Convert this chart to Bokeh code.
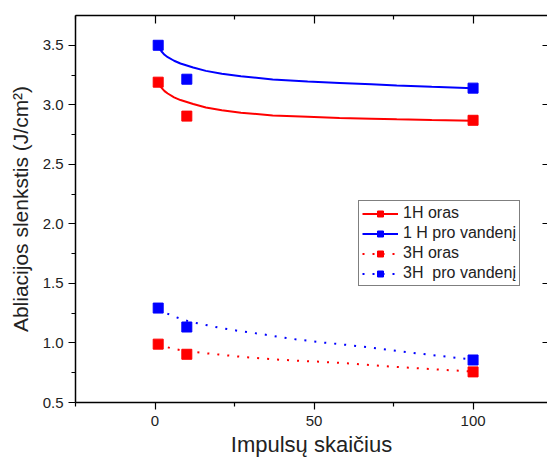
from bokeh.plotting import figure
from bokeh.models import LinearAxis, FixedTicker, Range1d, Legend, LegendItem
from bokeh.embed import file_html
from bokeh.resources import INLINE

# ---- data ----
pulses = [1, 10, 100]
h1_air = [3.19, 2.905, 2.87]
h1_water = [3.50, 3.215, 3.14]
h3_air = [0.99, 0.905, 0.757]
h3_water = [1.293, 1.134, 0.857]

# fitted curves
fit1_x = [1, 1.5, 2, 3, 4, 6, 8, 12, 16, 21, 27, 37, 48, 58, 68, 76, 87, 100]
fit1_air = [3.184, 3.16, 3.145, 3.115, 3.095, 3.063, 3.04, 3.007, 2.978, 2.955,
            2.933, 2.911, 2.90, 2.889, 2.883, 2.878, 2.872, 2.866]
fit1_water = [3.50, 3.47, 3.45, 3.42, 3.40, 3.37, 3.347, 3.313, 3.285, 3.26,
              3.24, 3.213, 3.196, 3.184, 3.172, 3.162, 3.151, 3.14]

fit3_x = [1, 5, 8, 11, 14, 20, 27, 33, 39, 45, 52, 58, 65, 74, 84, 96, 100]
fit3_air = [0.985, 0.956, 0.94, 0.928, 0.919, 0.903, 0.884, 0.872, 0.86, 0.851,
            0.842, 0.833, 0.82, 0.802, 0.785, 0.766, 0.76]
fit3_water = [1.28, 1.233, 1.203, 1.178, 1.162, 1.129, 1.098, 1.077, 1.05, 1.028,
              1.006, 0.99, 0.97, 0.94, 0.908, 0.872, 0.86]

labels = ["1H oras", "1 H pro vandenį", "3H oras", "3H  pro vandenį"]
x_major = [0, 50, 100]
x_minor = [-25, 25, 75, 125]
y_major = [0.5, 1.0, 1.5, 2.0, 2.5, 3.0, 3.5]
y_minor = [0.75, 1.25, 1.75, 2.25, 2.75, 3.25]
y_tick_labels = ["0.5", "1.0", "1.5", "2.0", "2.5", "3.0", "3.5"]

RED = "#ff0000"
BLUE = "#0000ff"
FONT = "Liberation Sans"

p = figure(width=547, height=460, x_range=Range1d(-25, 123.4),
           y_range=Range1d(0.5, 3.75), output_backend="svg",
           toolbar_location=None, min_border_left=75, min_border_top=15,
           min_border_right=0, min_border_bottom=58)
p.outline_line_color = None
p.xgrid.visible = False
p.ygrid.visible = False

# bottom axis
xa = p.xaxis[0]
xa.ticker = FixedTicker(ticks=x_major, minor_ticks=x_minor)
xa.axis_label = "Impulsų skaičius"
# left axis
ya = p.yaxis[0]
ya.ticker = FixedTicker(ticks=y_major, minor_ticks=y_minor)
ya.axis_label = "Abliacijos slenkstis (J/cm²)"
ya.major_label_overrides = {v: t for v, t in zip(y_major, y_tick_labels)}

for ax in (xa, ya):
    ax.axis_line_color = "black"
    ax.axis_line_width = 1.5
    ax.major_tick_line_color = "black"
    ax.minor_tick_line_color = "black"
    ax.major_tick_line_width = 1.2
    ax.minor_tick_line_width = 1.2
    ax.major_tick_out = 7
    ax.major_tick_in = 0
    ax.minor_tick_out = 4
    ax.minor_tick_in = 0
    ax.major_label_text_font = FONT
    ax.major_label_text_font_size = "15px"
    ax.major_label_text_color = "#222222"
    ax.axis_label_text_font = FONT
    ax.axis_label_text_font_style = "normal"
    ax.axis_label_text_color = "#222222"
xa.axis_label_text_font_size = "22px"
ya.axis_label_text_font_size = "21px"
xa.major_label_standoff = 6
xa.axis_label_standoff = 3
ya.major_label_standoff = 5
ya.axis_label_standoff = 8

# top axis (ticks inward, no labels)
top = LinearAxis(ticker=FixedTicker(ticks=x_major, minor_ticks=x_minor),
                 major_tick_in=8, major_tick_out=0, minor_tick_in=4,
                 minor_tick_out=0, major_label_text_font_size="1px",
                 major_label_text_color=None,
                 major_label_standoff=0, axis_line_width=1.5,
                 major_tick_line_width=1.2, minor_tick_line_width=1.2)
p.add_layout(top, "above")
# right axis (ticks inward only)
right = LinearAxis(ticker=FixedTicker(ticks=y_major, minor_ticks=[]),
                   major_tick_in=5, major_tick_out=0, minor_tick_in=0,
                   minor_tick_out=0, major_label_text_font_size="1px",
                   major_label_text_color=None,
                   major_label_standoff=0, axis_line_color=None,
                   major_tick_line_width=1.2)
p.add_layout(right, "right")

# curves
l1 = p.line(fit1_x, fit1_air, line_color=RED, line_width=2)
l2 = p.line(fit1_x, fit1_water, line_color=BLUE, line_width=2)
l3 = p.line(fit3_x, fit3_air, line_color=RED, line_width=2, line_dash="2 8")
l4 = p.line(fit3_x, fit3_water, line_color=BLUE, line_width=2, line_dash="2 8")

# points
s1 = p.scatter(pulses, h1_air, marker="square", size=10, color=RED)
s2 = p.scatter(pulses, h1_water, marker="square", size=10, color=BLUE)
s3 = p.scatter(pulses, h3_air, marker="square", size=10, color=RED)
s4 = p.scatter(pulses, h3_water, marker="square", size=10, color=BLUE)

legend = Legend(items=[
    LegendItem(label=labels[0], renderers=[l1, s1]),
    LegendItem(label=labels[1], renderers=[l2, s2]),
    LegendItem(label=labels[2], renderers=[l3, s3]),
    LegendItem(label=labels[3], renderers=[l4, s4]),
], location=(283, 116))
legend.border_line_color = "black"
legend.border_line_width = 1
legend.background_fill_alpha = 1
legend.label_text_font = FONT
legend.label_text_font_size = "16px"
legend.label_text_color = "#222222"
legend.glyph_width = 36
legend.glyph_height = 15
legend.label_height = 15
legend.spacing = 2
legend.padding = 3
legend.margin = 0
legend.label_standoff = 5
p.add_layout(legend)

open("out.html", "w").write(file_html(p, INLINE))
